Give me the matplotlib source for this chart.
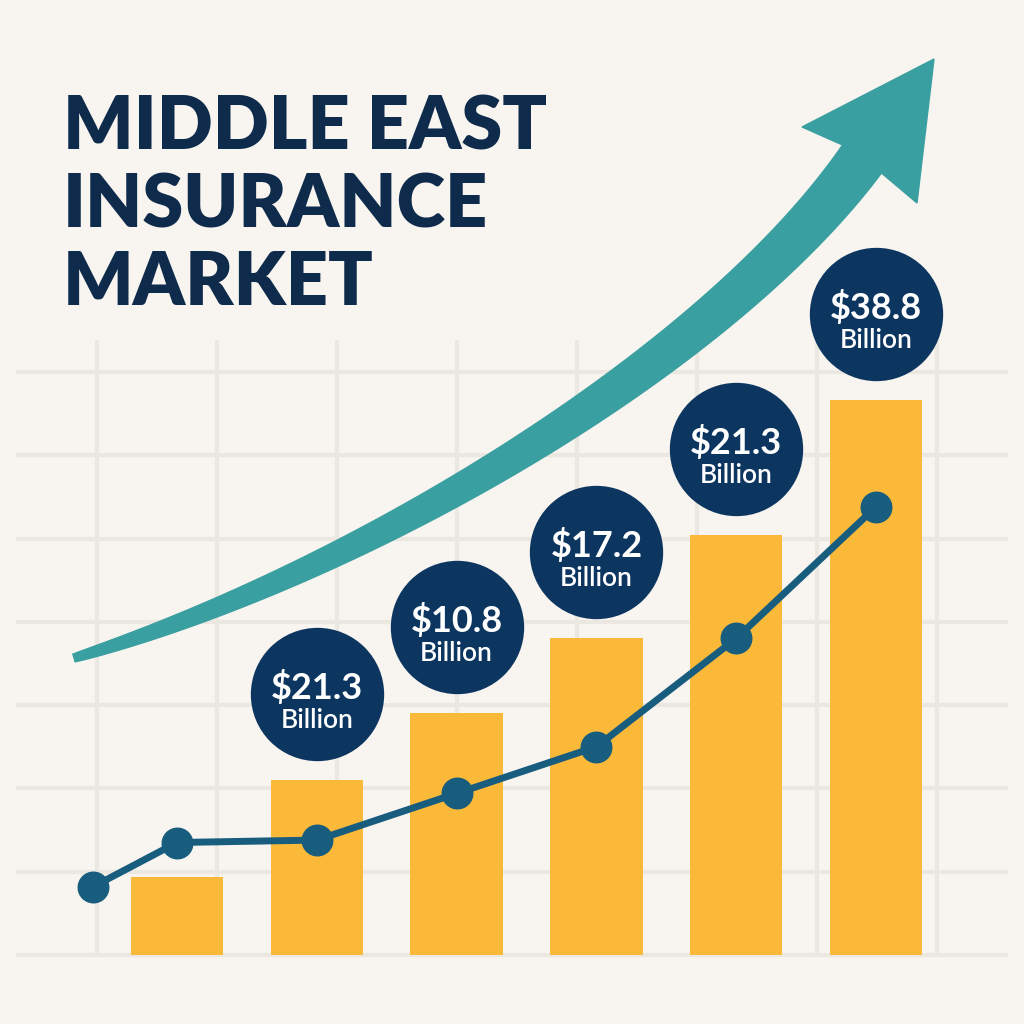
import numpy as np
import matplotlib.pyplot as plt
from matplotlib.patches import Polygon
from matplotlib.transforms import Affine2D

############ Dados do grafico ############
bar_x = [0, 1, 2, 3, 4, 5]
bar_values = [4.7, 10.5, 14.5, 19.0, 25.2, 33.3]
line_x = [-0.6, 0, 1, 2, 3, 4, 5]
line_values = [4.1, 6.75, 6.9, 9.7, 12.5, 19.0, 26.9]
label_bars = [1, 2, 3, 4, 5]
label_values = ["$21.3", "$10.8", "$17.2", "$21.3", "$38.8"]
label_unit = "Billion"
title_lines = ["MIDDLE EAST", "INSURANCE", "MARKET"]
##########################################

BG = "#f8f5f0"
NAVY = "#0f2b4c"
CIRCLE = "#0c3560"
LINE = "#185c7e"
BAR = "#fbb93a"
TEAL = "#3a9fa0"
GRID = "#ebe7e1"

W = 1024
PX_X = 139.8   # pixels por categoria
PX_Y = 16.66   # pixels por unidade
X0 = 177       # centro da primeira barra
Y0 = 955       # linha de base


"""Pixel (a partir do topo) para coordenadas de figura"""
def px_transform(fig):
    return Affine2D().scale(1.0 / W, -1.0 / W).translate(0, 1) + fig.transFigure


"""Seta curva decorativa: bezier cubica com largura crescente"""
def draw_arrow(fig):
    p0 = np.array([74, 658]); p1 = np.array([361, 572])
    p2 = np.array([716, 362]); p3 = np.array([862, 159])
    t = np.linspace(0, 1, 120)[:, None]
    c = (1-t)**3*p0 + 3*(1-t)**2*t*p1 + 3*(1-t)*t**2*p2 + t**3*p3
    d = 3*(1-t)**2*(p1-p0) + 6*(1-t)*t*(p2-p1) + 3*t**2*(p3-p2)
    d = d / np.linalg.norm(d, axis=1, keepdims=True)
    n = np.hstack([d[:, 1:2], -d[:, 0:1]])
    hw = (4 + 20 * t**0.75)
    upper = c + n * hw
    lower = c - n * hw
    head = np.array([[802, 127], [934, 59], [917, 203]])
    pts = np.vstack([upper, head[:1], head[1:2], head[2:], lower[::-1]])
    if upper[-1, 1] > lower[-1, 1]:
        pts = np.vstack([lower, head[:1], head[1:2], head[2:], upper[::-1]])
    poly = Polygon(pts, closed=True, facecolor=TEAL, edgecolor=TEAL, lw=1,
                   transform=px_transform(fig), zorder=3)
    fig.add_artist(poly)


def main():
    fig = plt.figure(figsize=(10.24, 10.24), dpi=100)
    fig.patch.set_facecolor(BG)
    ax = fig.add_axes([0, 0, 1, 1])
    ax.set_facecolor(BG)
    ax.set_xlim(-X0 / PX_X, (W - X0) / PX_X)
    ax.set_ylim(-(W - Y0) / PX_Y, Y0 / PX_Y)
    ax.axis('off')

    # grade
    gx = [(97 + 120 * k - X0) / PX_X for k in range(8)]
    gy = [5 * k for k in range(8)]
    ax.hlines(gy, (16 - X0) / PX_X, (1008 - X0) / PX_X, color=GRID, lw=3, zorder=1)
    ax.vlines(gx, 0, (Y0 - 340) / PX_Y, color=GRID, lw=3, zorder=1)

    # barras
    ax.bar(bar_x, bar_values, width=0.66, color=BAR, zorder=2)

    # linha
    ax.plot(line_x, line_values, color=LINE, lw=5, marker='o', ms=22,
            mfc=LINE, mec=LINE, zorder=4)

    # circulos com rotulos
    off = 86 / PX_Y
    for b, lab in zip(label_bars, label_values):
        cy = bar_values[b] + off
        ax.scatter([bar_x[b]], [cy], s=96**2, color=CIRCLE, zorder=5, linewidths=0)
        ax.text(bar_x[b], cy - 5 / PX_Y, lab, color='white', fontsize=26,
                fontweight='bold', family=['Lato', 'DejaVu Sans'],
                ha='center', va='baseline', zorder=6)
        ax.text(bar_x[b], cy - 34 / PX_Y, label_unit, color='white', fontsize=19,
                fontweight='semibold', family=['Lato', 'DejaVu Sans'],
                ha='center', va='baseline', zorder=6)

    draw_arrow(fig)

    # titulo
    for i, line in enumerate(title_lines):
        fig.text(63 / W, 1 - (149 + 78 * i) / W, line, color=NAVY, fontsize=53,
                 fontweight='heavy', family=['Lato', 'DejaVu Sans'],
                 ha='left', va='baseline')

    fig.savefig("out.png", dpi=100, facecolor=BG)


main()
